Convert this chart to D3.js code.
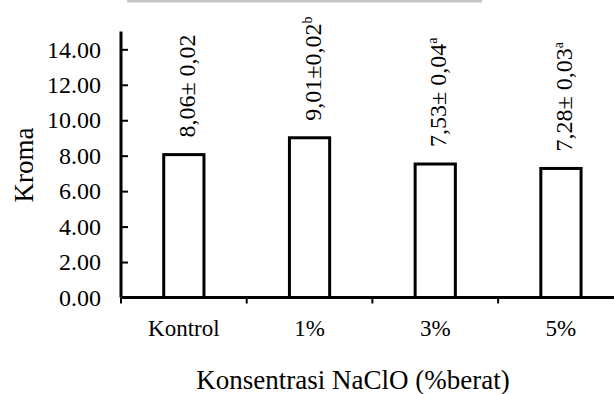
<!DOCTYPE html>
<html>
<head>
<meta charset="utf-8">
<script src="https://cdn.jsdelivr.net/npm/d3@7"></script>
<style>
  body { margin: 0; background: #fff; }
</style>
</head>
<body>
<div id="chart"></div>
<script>
  // data
  const categories = ["Kontrol", "1%", "3%", "5%"];
  const values = [8.06, 9.01, 7.53, 7.28];
  const labelText = ["8,06\u00b1 0,02", "9,01\u00b10,02", "7,53\u00b1 0,04", "7,28\u00b1 0,03"];
  const labelSup = ["", "b", "a", "a"];
  const yTicks = [0, 2, 4, 6, 8, 10, 12, 14];

  const width = 614, height = 394;
  const serif = "Liberation Serif";

  const svg = d3.select("#chart").append("svg")
      .attr("width", width)
      .attr("height", height)
      .attr("font-family", serif);

  // faint scan strip at the top edge
  svg.append("rect")
      .attr("x", 127).attr("y", 0)
      .attr("width", 355).attr("height", 2.5)
      .attr("fill", "#c6c6c6");

  // set the ranges
  var x = d3.scaleBand()
      .domain(categories)
      .range([121, 623.8])
      .paddingInner(0.68)
      .paddingOuter(0.34);

  var y = d3.scaleLinear()
      .domain([0, 15])
      .range([297.5, 31.6]);

  // bars
  svg.selectAll("rect.bar")
      .data(values)
      .enter().append("rect")
      .attr("class", "bar")
      .attr("x", (d, i) => x(categories[i]))
      .attr("y", d => y(d))
      .attr("width", x.bandwidth())
      .attr("height", d => y(0) - y(d))
      .attr("fill", "#fff")
      .attr("stroke", "#000")
      .attr("stroke-width", 3);

  // value labels, rotated
  const lab = svg.selectAll("text.val")
      .data(values)
      .enter().append("text")
      .attr("class", "val")
      .attr("transform", (d, i) =>
          "translate(" + (x(categories[i]) + x.bandwidth() / 2 + 11) + "," + (y(d) - 17) + ") rotate(-90)")
      .attr("font-family", serif)
      .attr("font-size", 24)
      .attr("fill", "#000");
  lab.append("tspan").text((d, i) => labelText[i]);
  lab.append("tspan")
      .attr("font-size", 14)
      .attr("dy", -9)
      .text((d, i) => labelSup[i]);

  // Y axis
  const gy = svg.append("g")
      .attr("transform", "translate(121,0)")
      .call(d3.axisLeft(y).tickValues(yTicks).tickSize(-7).tickPadding(20)
          .tickFormat(d3.format(".2f")))
      .attr("font-family", serif);
  gy.select(".domain").attr("stroke-width", 3).attr("d", "M0," + y(0) + "V" + y(15));
  gy.selectAll(".tick line").attr("stroke-width", 2);
  gy.selectAll(".tick text")
      .attr("font-family", serif)
      .attr("font-size", 24)
      .attr("fill", "#000");

  // X axis
  const gx = svg.append("g")
      .attr("transform", "translate(0," + y(0) + ")");
  gx.append("line")
      .attr("x1", 121).attr("x2", width)
      .attr("stroke", "#000").attr("stroke-width", 3);
  gx.selectAll("line.tk")
      .data(categories)
      .enter().append("line")
      .attr("class", "tk")
      .attr("x1", d => x(d) - x.step() * 0.34)
      .attr("x2", d => x(d) - x.step() * 0.34)
      .attr("y1", 0).attr("y2", 6)
      .attr("stroke", "#000").attr("stroke-width", 2);
  gx.selectAll("text")
      .data(categories)
      .enter().append("text")
      .attr("x", d => x(d) + x.bandwidth() / 2)
      .attr("y", 38)
      .attr("text-anchor", "middle")
      .attr("font-family", serif)
      .attr("font-size", 23)
      .text(d => d);

  // axis titles
  svg.append("text")
      .attr("x", 353).attr("y", 389)
      .attr("text-anchor", "middle")
      .attr("font-family", serif)
      .attr("font-size", 27)
      .text("Konsentrasi NaClO (%berat)");

  svg.append("text")
      .attr("transform", "translate(33,165) rotate(-90)")
      .attr("text-anchor", "middle")
      .attr("font-family", serif)
      .attr("font-size", 27)
      .text("Kroma");
</script>
</body>
</html>
